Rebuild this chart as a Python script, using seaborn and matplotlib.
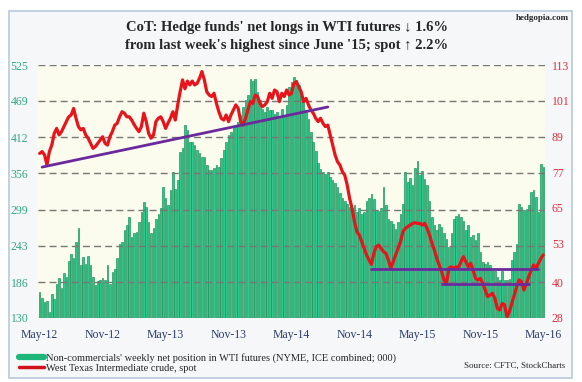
import numpy as np
import pandas as pd
import matplotlib
matplotlib.use("Agg")
import matplotlib.pyplot as plt
from matplotlib.lines import Line2D
from matplotlib.patches import Rectangle
import seaborn as sns

# weekly net longs, 000 contracts (left axis)
net_longs = [
    171, 161, 155, 157, 140, 167, 160, 183, 192, 177, 200, 194, 219, 230, 224, 249, 271, 212, 226, 215,
    227, 212, 194, 181, 187, 189, 193, 190, 213, 183, 202, 206, 224, 245, 249, 267, 275,
    288, 257, 262, 265, 280, 296, 311, 304, 280, 262, 270, 285, 293, 301, 335, 317, 306, 330, 358,
    332, 345, 389, 395, 431,
    423, 405, 405, 400, 392, 388, 381, 381, 369, 361, 361, 364, 369, 366, 380, 392, 405, 416, 420, 428,
    431, 436, 447, 459, 470, 478, 503, 500, 503, 483, 470, 457, 452, 459, 454, 454, 449, 452, 442, 457,
    447, 462,
    491, 499, 506, 501, 493, 482, 470, 455, 440, 420, 405, 390, 372, 362, 358, 355, 358, 350, 345, 340,
    335, 325, 318, 312, 308, 304, 301, 306, 296, 301, 293, 296, 312, 318,
    324, 316, 298, 297, 301, 335, 306, 285, 282, 277, 269, 280, 293, 308, 358, 342, 349, 338, 364, 375,
    353, 359, 347, 338, 312, 287, 275, 267, 277, 272, 262, 254, 241, 262, 285, 290, 293, 287, 282,
    267, 275, 256, 259, 251, 262, 233, 217, 215, 217, 212, 207, 204, 194, 189, 204, 189, 189, 191,
    220, 233, 246, 308, 303, 298, 300, 306, 327, 330, 319, 295, 370, 366,
]

# WTI spot, $ (right axis)
wti_spot = [
    83.3, 83.9, 82.8, 79.4, 83.9, 86.1, 90.0, 91.7, 89.5, 90.6, 92.3, 94.0, 95.6, 96.2, 98.4, 95.1, 92.3,
    91.2, 91.7, 89.5, 88.4, 86.7, 85.0, 85.6, 86.7, 87.8, 88.9, 86.7, 86.1, 88.9, 90.6, 92.8, 93.4, 95.6,
    97.3, 96.8, 95.6,
    95.6, 94.5, 93.0, 91.7, 90.6, 92.3, 96.8, 94.0, 90.0, 88.4, 89.5, 94.0, 95.1, 95.6, 94.0, 91.7, 93.5,
    95.1, 97.3, 94.5, 99.6, 104.0, 108.0, 105.0,
    107.6, 106.3, 107.6, 106.3, 106.8, 108.5, 110.8, 108.0, 104.0, 102.9, 102.4, 103.5,
    100.1, 97.3, 95.1, 94.5, 96.2, 94.0, 96.2, 97.9, 99.6, 98.4, 94.0, 92.8, 95.1, 97.9, 100.7, 100.1,
    102.9, 102.4, 100.1, 99.0, 99.6, 100.7, 103.5, 101.8, 104.6, 104.0, 100.7, 103.5, 102.4, 104.6,
    102.9, 103.5, 106.8, 107.4, 105.7, 104.0, 100.7, 101.8, 99.6, 97.9, 96.8, 95.1, 94.0, 95.1, 93.4,
    92.3, 92.8, 89.5, 86.1, 82.8, 80.5, 79.4, 77.2, 76.0, 72.7, 68.2, 64.8, 60.4, 57.0, 55.9, 53.6, 51.4,
    49.2, 47.5,
    46.0, 49.7, 52.0, 52.5, 51.4, 50.3, 49.7, 47.5, 44.7, 46.9, 49.2, 51.4, 53.6, 57.0, 58.1, 58.7, 59.2,
    59.8, 60.0, 59.8, 59.8, 59.2, 59.8, 58.1, 55.9, 53.1, 50.8, 48.0, 45.8, 43.6, 40.8, 39.6, 44.7,
    45.2, 44.7, 45.2, 45.0, 46.9, 48.6, 46.9, 45.2, 46.4, 44.1, 41.3, 40.8, 41.3, 39.6, 37.4, 35.2, 35.7,
    36.3, 34.6, 31.2, 30.7, 32.9, 32.4, 28.4, 30.1, 32.9, 35.7, 38.5, 40.8, 40.2, 37.4, 39.6, 41.8,
    44.1, 45.8, 44.7, 46.4, 48.0, 49.2,
]

x_labels = ['May-12', 'Nov-12', 'May-13', 'Nov-13', 'May-14', 'Nov-14', 'May-15', 'Nov-15', 'May-16']
left_ticks = [130, 186, 243, 299, 356, 412, 469, 525]
right_ticks = [28, 40, 53, 65, 77, 89, 101, 113]

# purple trend / support lines (week index, price)
trend_week = [1, 119]
trend_price = [78.7, 98.9]
support_hi_week = [137, 206]
support_hi_price = [44.4, 44.4]
support_lo_week = [166, 202]
support_lo_price = [39.5, 39.5]

n = min(len(net_longs), len(wti_spot))
df = pd.DataFrame({'week': np.arange(n), 'net': net_longs[:n], 'spot': wti_spot[:n]})

sns.set_style("white")
plt.rcParams['font.family'] = ['Liberation Serif', 'DejaVu Serif']

W, H = 582, 382
fig = plt.figure(figsize=(W / 100, H / 100), dpi=100)
fig.patch.set_facecolor('white')
fig.patches.append(Rectangle((9 / W, 1 - 378 / H), 563 / W, 367 / H, transform=fig.transFigure,
                             facecolor='#f6f7f9', edgecolor='#b7c9de', lw=1.2, zorder=-5))

ax = fig.add_axes([38 / W, 1 - 318 / H, 507 / W, 253 / H])
ax.set_facecolor('#fcfcee')
sns.barplot(data=df, x='week', y='net', ax=ax, color='#2cc98c', saturation=1,
            width=0.66, edgecolor='#138f55', linewidth=0.45)
ax.set_ylim(130, 525)
ax.set_xlim(-0.7, n - 0.3)
ax.set_yticks(left_ticks)
ax.set_yticklabels([str(t) for t in left_ticks])
ax.set_xticks(np.arange(0, 26 * len(x_labels), 26))
ax.set_xticklabels(x_labels)
ax.grid(axis='y', linestyle=(0, (5, 3)), color='#777777', lw=1.0)
ax.grid(axis='x', visible=False)
ax.set_axisbelow(False)
ax.tick_params(axis='y', length=0, pad=7, labelsize=8.5, labelcolor='#33a882')
ax.tick_params(axis='x', length=0, pad=8, labelsize=8.5, labelcolor='#2c3d6e')
ax.set_xlabel('')
ax.set_ylabel('')

ax2 = ax.twinx()
sns.lineplot(data=df, x='week', y='spot', ax=ax2, color='#e8141c', lw=2.3)
ax2.plot(trend_week, trend_price, color='#6a2a9e', lw=2)
ax2.plot(support_hi_week, support_hi_price, color='#6a2a9e', lw=2)
ax2.plot(support_lo_week, support_lo_price, color='#6a2a9e', lw=2)
ax2.set_ylim(28, 113)
ax2.set_yticks(right_ticks)
ax2.set_yticklabels([str(t) for t in right_ticks])
ax2.tick_params(axis='y', length=0, pad=5, labelsize=8.5, labelcolor='#e0303c')
ax2.set_ylabel('')
ax2.set_xlabel('')

for a in (ax, ax2):
    for s in a.spines.values():
        s.set_visible(False)

fig.text(287 / W, 1 - 28 / H, "CoT: Hedge funds' net longs in WTI futures \u2193 1.6%",
         ha='center', va='center', fontsize=10.5, fontweight='bold')
fig.text(287 / W, 1 - 46 / H, "from last week's highest since June '15; spot \u2191 2.2%",
         ha='center', va='center', fontsize=10.5, fontweight='bold')
fig.text(569 / W, 1 - 18 / H, 'hedgopia.com', ha='right', va='center', fontsize=6.5, fontweight='bold')

handles = [Line2D([], [], color='#1db77a', lw=4.5), Line2D([], [], color='#d0101a', lw=2.5)]
labels = ["Non-commercials' weekly net position in WTI futures (NYME, ICE combined; 000)",
          'West Texas Intermediate crude, spot']
fig.legend(handles, labels, loc='upper left', bbox_to_anchor=(14 / W, 1 - 348 / H), frameon=False,
           fontsize=7.5, handlelength=2.4, handletextpad=0.15, labelspacing=0.05, borderpad=0)
fig.text(565 / W, 1 - 366 / H, 'Source: CFTC, StockCharts', ha='right', va='center', fontsize=6.5)

fig.savefig('out.png', dpi=100, facecolor=fig.get_facecolor())
